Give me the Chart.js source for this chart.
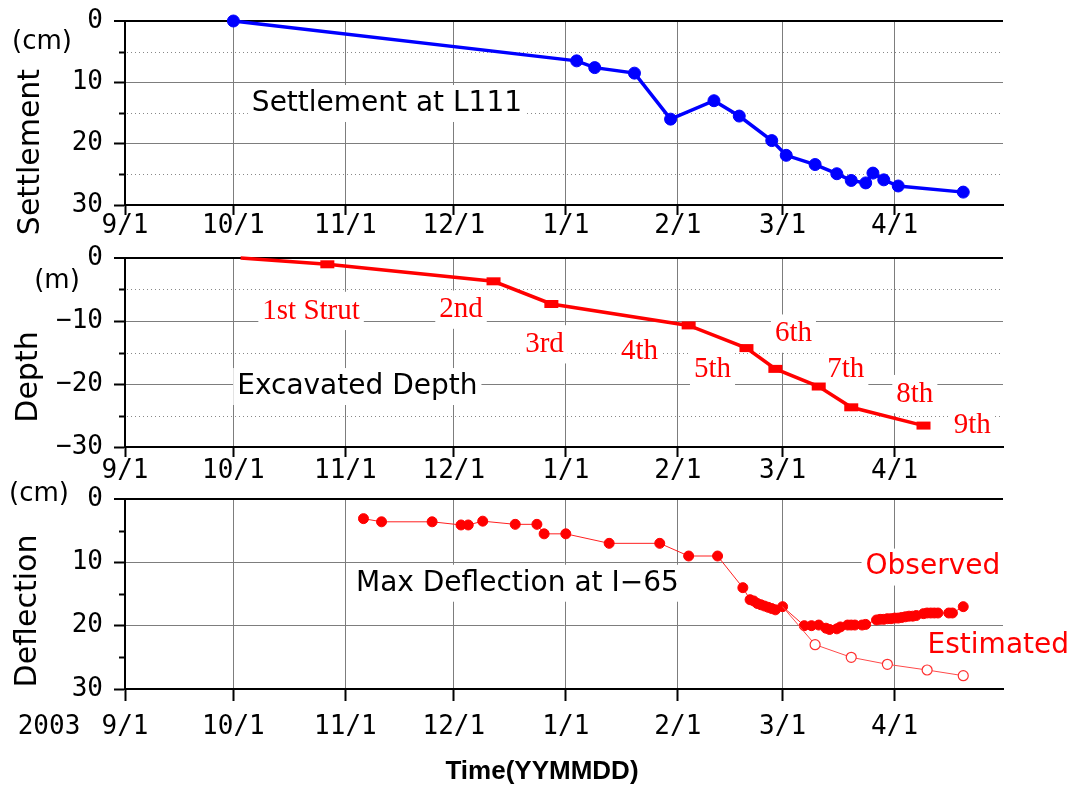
<!DOCTYPE html>
<html>
<head>
<meta charset="utf-8">
<script src="https://cdn.jsdelivr.net/npm/chart.js@4/dist/chart.umd.min.js"></script>
<style>
  html, body { margin: 0; padding: 0; background: #fff; }
  #wrap { position: relative; width: 1073px; height: 791px; overflow: hidden; background: #fff; }
  #wrap canvas { position: absolute; left: 0; }
</style>
</head>
<body>
<div id="wrap">
  <canvas id="settlement" width="1073" height="250" style="top:0px"></canvas>
  <canvas id="depth" width="1073" height="258" style="top:232px"></canvas>
  <canvas id="deflection" width="1073" height="317" style="top:474px"></canvas>
</div>
<script>
// ---- time axis ----
const monthTicks  = ['2003-09-01','2003-10-01','2003-11-01','2003-12-01','2004-01-01','2004-02-01','2004-03-01','2004-04-01'];
const monthLabels = ['9/1','10/1','11/1','12/1','1/1','2/1','3/1','4/1'];
const axisStart = '2003-09-01';
const axisEnd   = '2004-05-01';

// ---- settlement at L111 (cm) ----
const settlementDates = ['2003-10-01','2004-01-04','2004-01-09','2004-01-20','2004-01-30','2004-02-11','2004-02-18',
  '2004-02-27','2004-03-02','2004-03-10','2004-03-16','2004-03-20','2004-03-24','2004-03-26','2004-03-29','2004-04-02','2004-04-20'];
const settlementCm = [0, 6.5, 7.6, 8.5, 16.0, 13.0, 15.5, 19.5, 21.9, 23.4, 24.9, 26.0, 26.4, 24.8, 25.9, 26.9, 27.9];

// ---- excavated depth (m) and strut stages ----
const depthDates = ['2003-10-03','2003-10-27','2003-12-12','2003-12-28','2004-02-04','2004-02-20','2004-02-28',
  '2004-03-11','2004-03-20','2004-04-09'];
const depthM = [0, -1.0, -3.7, -7.3, -10.7, -14.3, -17.6, -20.4, -23.7, -26.6];
const strutLabels = ['1st Strut','2nd','3rd','4th','5th','6th','7th','8th','9th'];

// ---- max deflection at I-65 (cm) ----
const deflectionDates = ['2003-11-06','2003-11-11','2003-11-25','2003-12-03','2003-12-05','2003-12-09','2003-12-18',
  '2003-12-24','2003-12-26','2004-01-01','2004-01-13','2004-01-27','2004-02-04','2004-02-12','2004-02-19','2004-02-21',
  '2004-02-22','2004-02-23','2004-02-24','2004-02-25','2004-02-26','2004-02-27','2004-02-28','2004-03-01','2004-03-07',
  '2004-03-09','2004-03-11','2004-03-13','2004-03-14','2004-03-16','2004-03-17','2004-03-19','2004-03-20','2004-03-21',
  '2004-03-23','2004-03-24','2004-03-27','2004-03-28','2004-03-29','2004-03-30','2004-03-31','2004-04-01','2004-04-02',
  '2004-04-03','2004-04-04','2004-04-05','2004-04-06','2004-04-07','2004-04-09','2004-04-10','2004-04-11','2004-04-12',
  '2004-04-13','2004-04-16','2004-04-17','2004-04-20'];
const deflectionObserved = [3.1, 3.6, 3.6, 4.1, 4.1, 3.5, 4.0, 4.0, 5.5, 5.5, 7.0, 7.0, 9.0, 9.0, 14.0, 15.9,
  16.1, 16.5, 16.7, 16.9, 17.1, 17.3, 17.5, 17.0, 20.0, 20.0, 19.9, 20.4, 20.6, 20.5, 20.2, 19.9, 19.9, 19.9,
  19.9, 19.8, 19.1, 19.0, 19.0, 18.9, 18.9, 18.8, 18.8, 18.7, 18.6, 18.5, 18.5, 18.4, 18.1, 18.0, 18.0, 18.0,
  18.0, 18.0, 18.0, 17.0];
const estimatedDates = ['2004-03-01','2004-03-10','2004-03-20','2004-03-30','2004-04-10','2004-04-20'];
const deflectionEstimated = [17.0, 23.0, 25.0, 26.1, 27.0, 27.9];

// ---- helpers ----
const DAY_MS = 86400000;
function dayOf(s) {
  const p = s.split('-').map(Number);
  const q = axisStart.split('-').map(Number);
  return (Date.UTC(p[0], p[1] - 1, p[2]) - Date.UTC(q[0], q[1] - 1, q[2])) / DAY_MS;
}
function points(dates, values) { return dates.map((d, i) => ({ x: dayOf(d), y: values[i] })); }
const minus = v => (v < 0 ? '\u2212' + (-v) : String(v));

const TICK_FONT = { family: '"DejaVu Sans Mono", monospace', size: 26 };
const GRID_GRAY = '#7d7d7d';

function xAxis(height, labelPad, tickLen) {
  return {
    type: 'linear',
    min: 0,
    max: dayOf(axisEnd),
    afterBuildTicks: s => { s.ticks = monthTicks.map(d => ({ value: dayOf(d) })); },
    afterFit: s => { s.height = height; s.paddingLeft = 0; s.paddingRight = 0; },
    ticks: {
      autoSkip: false, maxRotation: 0, minRotation: 0,
      padding: labelPad, color: '#000', font: TICK_FONT,
      callback: (v, i) => monthLabels[i]
    },
    grid: { color: GRID_GRAY, lineWidth: 1, tickColor: '#000', tickWidth: 2, tickLength: tickLen },
    border: { color: '#000', width: 2 }
  };
}

function yAxis(min, max, reverse) {
  const vals = [];
  for (let v = min; v <= max; v += 5) vals.push(v);
  return {
    type: 'linear', min, max, reverse,
    afterBuildTicks: s => { s.ticks = vals.map(v => ({ value: v })); },
    // plot area starts at a fixed x and the layout padding alone sets its top
    afterFit: s => { s.width = 125; s.paddingTop = 0; s.paddingBottom = 0; },
    ticks: {
      padding: 11, color: '#000', font: TICK_FONT,
      callback: v => (v % 10 === 0 ? minus(v) : '')
    },
    grid: {
      color: c => {
        const v = c.tick ? c.tick.value : 1;
        if (v === 0) return '#000';
        return v % 10 === 0 ? GRID_GRAY : 'rgba(0,0,0,0)';
      },
      lineWidth: c => (c.tick && c.tick.value === 0 ? 2 : 1),
      tickColor: c => (c.tick && c.tick.value % 10 === 0 ? '#000' : 'rgba(0,0,0,0)'),
      tickLength: 11, tickWidth: 2
    },
    border: { color: '#000', width: 2 }
  };
}

// Minor grid (dotted), minor ticks, boxed annotations and the text around each panel
const panelDecor = {
  id: 'panelDecor',
  beforeDatasetsDraw(chart, args, o) {
    const { ctx, chartArea: a, scales: { x, y } } = chart;
    ctx.save();
    (o.minor || []).forEach(v => {
      const py = Math.round(y.getPixelForValue(v)) + 0.5;
      ctx.setLineDash([]);
      ctx.strokeStyle = '#000'; ctx.lineWidth = 2;
      ctx.beginPath(); ctx.moveTo(a.left - 6, py); ctx.lineTo(a.left, py); ctx.stroke();
      if (o.dotted) {
        ctx.strokeStyle = '#888'; ctx.lineWidth = 1; ctx.setLineDash([1, 3]);
        ctx.beginPath(); ctx.moveTo(a.left + 2, py); ctx.lineTo(a.right, py); ctx.stroke();
      }
    });
    ctx.setLineDash([]);
    (o.notes || []).forEach(n => {
      ctx.font = n.font;
      const w = ctx.measureText(n.text).width;
      const px = x.getPixelForValue(n.at[0]);
      const py = y.getPixelForValue(n.at[1]);
      ctx.fillStyle = '#fff';
      ctx.fillRect(px - w / 2 - n.pad, py - n.size * 0.66, w + 2 * n.pad, n.size * 1.32);
      ctx.fillStyle = n.color;
      ctx.textAlign = 'center'; ctx.textBaseline = 'middle';
      ctx.fillText(n.text, px, py);
    });
    ctx.restore();
  },
  afterDraw(chart, args, o) {
    const ctx = chart.ctx;
    (o.outside || []).forEach(t => {
      ctx.save();
      ctx.font = t.font; ctx.fillStyle = '#000';
      ctx.textAlign = 'center'; ctx.textBaseline = 'middle';
      ctx.translate(t.x, t.y);
      if (t.vertical) ctx.rotate(-Math.PI / 2);
      ctx.fillText(t.text, 0, 0);
      ctx.restore();
    });
  }
};

const SANS = '"DejaVu Sans", sans-serif';
const NOTE_FONT = '28px ' + SANS;
const STRUT_FONT = '29px "Liberation Serif", serif';
const TITLE_FONT = '30px ' + SANS;
const UNIT_FONT = '26px ' + SANS;

function note(text, at, color, font, size, pad) { return { text, at, color, font, size, pad }; }

function makeChart(id, cfg) {
  return new Chart(document.getElementById(id), {
    type: 'line',
    data: { datasets: cfg.datasets },
    options: {
      responsive: false, animation: false, devicePixelRatio: 1,
      layout: { padding: { left: 0, right: 70, top: cfg.top, bottom: 0 } },
      plugins: { legend: { display: false }, tooltip: { enabled: false }, panelDecor: cfg.decor },
      scales: { x: cfg.x, y: cfg.y }
    },
    plugins: [panelDecor]
  });
}

// ---- panel 1: settlement ----
makeChart('settlement', {
  top: 21,
  x: xAxis(45, -4, 10),
  y: yAxis(0, 30, true),
  datasets: [{
    data: points(settlementDates, settlementCm),
    borderColor: '#0000ff', borderWidth: 3.5,
    pointRadius: 6, pointBorderWidth: 1,
    pointBackgroundColor: '#0000ff', pointBorderColor: '#0000ff',
    tension: 0, clip: false
  }],
  decor: {
    minor: [5, 15, 25], dotted: true,
    notes: [note('Settlement at L111', [72.5, 13.45], '#000', NOTE_FONT, 28, 4)],
    outside: [
      { text: 'Settlement', x: 31, y: 152, font: TITLE_FONT, vertical: true },
      { text: '(cm)', x: 42, y: 42, font: UNIT_FONT }
    ]
  }
});

// ---- panel 2: excavated depth ----
const strutAt = [[51.5, -8.4], [93.0, -8.2], [116.1, -13.7], [142.4, -14.9], [162.6, -17.7],
                 [185.0, -12.0], [199.5, -17.7], [218.6, -21.6], [234.5, -26.5]];
makeChart('depth', {
  top: 26,
  x: xAxis(43, -1, 10),
  y: yAxis(-30, 0, false),
  datasets: [{
    data: points(depthDates, depthM),
    borderColor: '#ff0000', borderWidth: 3.5,
    pointStyle: 'line',
    pointRadius: depthM.map((v, i) => (i === 0 ? 0 : 7)),
    pointBorderWidth: 8,
    pointBackgroundColor: '#ff0000', pointBorderColor: '#ff0000',
    tension: 0, clip: false
  }],
  decor: {
    minor: [-25, -15, -5], dotted: true,
    notes: [note('Excavated Depth', [64.3, -20.4], '#000', NOTE_FONT, 28, 4)]
      .concat(strutLabels.map((t, i) => note(t, strutAt[i], '#ff0000', STRUT_FONT, 29, 4))),
    outside: [
      { text: 'Depth', x: 29, y: 145, font: TITLE_FONT, vertical: true },
      { text: '(m)', x: 57, y: 49, font: UNIT_FONT }
    ]
  }
});

// ---- panel 3: max deflection ----
makeChart('deflection', {
  top: 25,
  x: xAxis(102, 11, 12),
  y: yAxis(0, 30, true),
  datasets: [{
    data: points(estimatedDates, deflectionEstimated),
    borderColor: '#ff4a4a', borderWidth: 1,
    pointRadius: deflectionEstimated.map((v, i) => (i === 0 ? 0 : 5)),
    pointBorderWidth: 1.2,
    pointBackgroundColor: '#ffffff', pointBorderColor: '#ff3030',
    tension: 0, clip: false
  }, {
    data: points(deflectionDates, deflectionObserved),
    borderColor: '#ff2020', borderWidth: 1,
    pointRadius: 5, pointBorderWidth: 1,
    pointBackgroundColor: '#ff0000', pointBorderColor: '#ff0000',
    tension: 0, clip: false
  }],
  decor: {
    minor: [5, 15, 25], dotted: false,
    notes: [
      note('Max Deflection at I\u221265', [108.6, 13.3], '#000', NOTE_FONT, 28, 3),
      note('Observed', [223.6, 10.75], '#ff0000', NOTE_FONT, 28, 4),
      note('Estimated', [241.7, 23.15], '#ff0000', NOTE_FONT, 28, 4)
    ],
    outside: [
      { text: 'Deflection', x: 28, y: 137, font: TITLE_FONT, vertical: true },
      { text: '(cm)', x: 39, y: 20, font: UNIT_FONT },
      { text: '2003', x: 49, y: 253, font: '26px "DejaVu Sans Mono", monospace' },
      { text: 'Time(YYMMDD)', x: 542, y: 298, font: 'bold 26px "Liberation Sans", Arial, sans-serif' }
    ]
  }
});
</script>
</body>
</html>
